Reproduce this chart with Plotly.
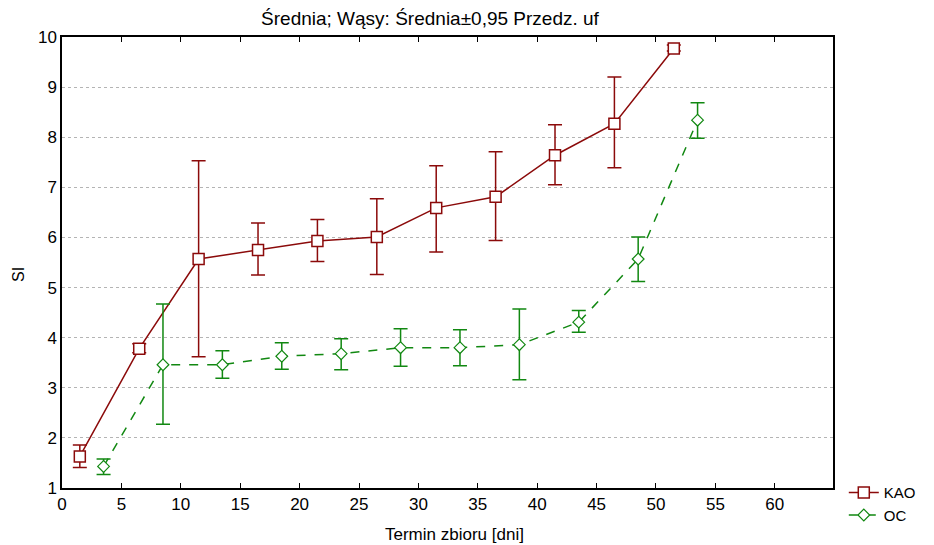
import plotly.graph_objects as go

# KAO series
kao_x = [1.5, 6.5, 11.5, 16.5, 21.5, 26.5, 31.5, 36.5, 41.5, 46.5, 51.5]
kao_mean = [1.63, 3.78, 5.57, 5.75, 5.93, 6.01, 6.59, 6.81, 7.64, 8.27, 9.77]
kao_hi = [1.86, 3.88, 7.53, 6.29, 6.36, 6.77, 7.43, 7.71, 8.25, 9.20, 9.84]
kao_lo = [1.41, 3.70, 3.62, 5.25, 5.52, 5.26, 5.71, 5.94, 7.05, 7.39, 9.72]

# OC series
oc_x = [3.5, 8.5, 13.5, 18.5, 23.5, 28.5, 33.5, 38.5, 43.5, 48.5, 53.5]
oc_mean = [1.43, 3.46, 3.46, 3.63, 3.68, 3.80, 3.80, 3.86, 4.31, 5.57, 8.34]
oc_hi = [1.58, 4.67, 3.74, 3.90, 3.98, 4.18, 4.16, 4.57, 4.54, 6.01, 8.69]
oc_lo = [1.27, 2.27, 3.19, 3.37, 3.36, 3.43, 3.44, 3.16, 4.11, 5.12, 7.98]

x_ticks = [0, 5, 10, 15, 20, 25, 30, 35, 40, 45, 50, 55, 60]
y_ticks = [1, 2, 3, 4, 5, 6, 7, 8, 9, 10]

KAO_COLOR = "#8B0A0A"
OC_COLOR = "#118811"
FONT = "Liberation Sans, Arial, sans-serif"

fig = go.Figure()

fig.add_trace(go.Scatter(
    x=kao_x, y=kao_mean, name="KAO", mode="lines+markers",
    line=dict(color=KAO_COLOR, width=1.5),
    marker=dict(symbol="square", size=11, color="white",
                line=dict(color=KAO_COLOR, width=1.5)),
    error_y=dict(type="data", symmetric=False,
                 array=[h - m for h, m in zip(kao_hi, kao_mean)],
                 arrayminus=[m - l for m, l in zip(kao_mean, kao_lo)],
                 color=KAO_COLOR, thickness=1.5, width=7),
))

fig.add_trace(go.Scatter(
    x=oc_x, y=oc_mean, name="OC", mode="lines+markers",
    line=dict(color=OC_COLOR, width=1.5, dash="dash"),
    marker=dict(symbol="diamond", size=9, color="white",
                line=dict(color=OC_COLOR, width=1.2)),
    error_y=dict(type="data", symmetric=False,
                 array=[h - m for h, m in zip(oc_hi, oc_mean)],
                 arrayminus=[m - l for m, l in zip(oc_mean, oc_lo)],
                 color=OC_COLOR, thickness=1.5, width=7),
))

W, H = 926, 537
fig.update_layout(
    width=W, height=H,
    margin=dict(l=54, r=101, t=29, b=57, autoexpand=False),
    paper_bgcolor="white", plot_bgcolor="white",
    font=dict(family=FONT, size=17, color="black"),
    title=dict(text="Średnia; Wąsy: Średnia±0,95 Przedz. uf",
               x=(422 - 54) / 771, xanchor="center", xref="paper",
               y=1 - 10 / H, yanchor="middle", yref="container",
               font=dict(family=FONT, size=19, color="black")),
    showlegend=True,
    legend=dict(x=1.014, xanchor="left", y=0.026, yanchor="top",
                bgcolor="rgba(0,0,0,0)", font=dict(size=15),
                tracegroupgap=0, itemwidth=30),
    annotations=[
        dict(text="Termin zbioru [dni]", xref="paper", yref="paper",
             x=(446 - 54) / 771, y=-(526 - 480) / 451,
             xanchor="center", yanchor="middle", showarrow=False,
             font=dict(size=17)),
        dict(text="SI", xref="paper", yref="paper",
             x=(10 - 54) / 771, y=(480 - 267) / 451, textangle=-90,
             xanchor="center", yanchor="middle", showarrow=False,
             font=dict(size=16)),
    ],
)

fig.update_xaxes(
    range=[0, 64.9], tickvals=x_ticks, ticktext=[str(v) for v in x_ticks],
    showgrid=False, zeroline=False, automargin=False,
    showline=True, linecolor="black", linewidth=1.5, mirror="ticks",
    ticks="inside", ticklen=5, tickcolor="black", tickwidth=1,
    tickfont=dict(size=17),
)
fig.update_yaxes(
    range=[1, 10], tickvals=y_ticks, ticktext=[str(v) for v in y_ticks],
    showgrid=True, gridcolor="#b4b4b4", griddash="dot", gridwidth=1,
    zeroline=False, automargin=False,
    showline=True, linecolor="black", linewidth=1.5, mirror=True,
    ticks="", tickfont=dict(size=17),
)

fig.write_html("out.html")
